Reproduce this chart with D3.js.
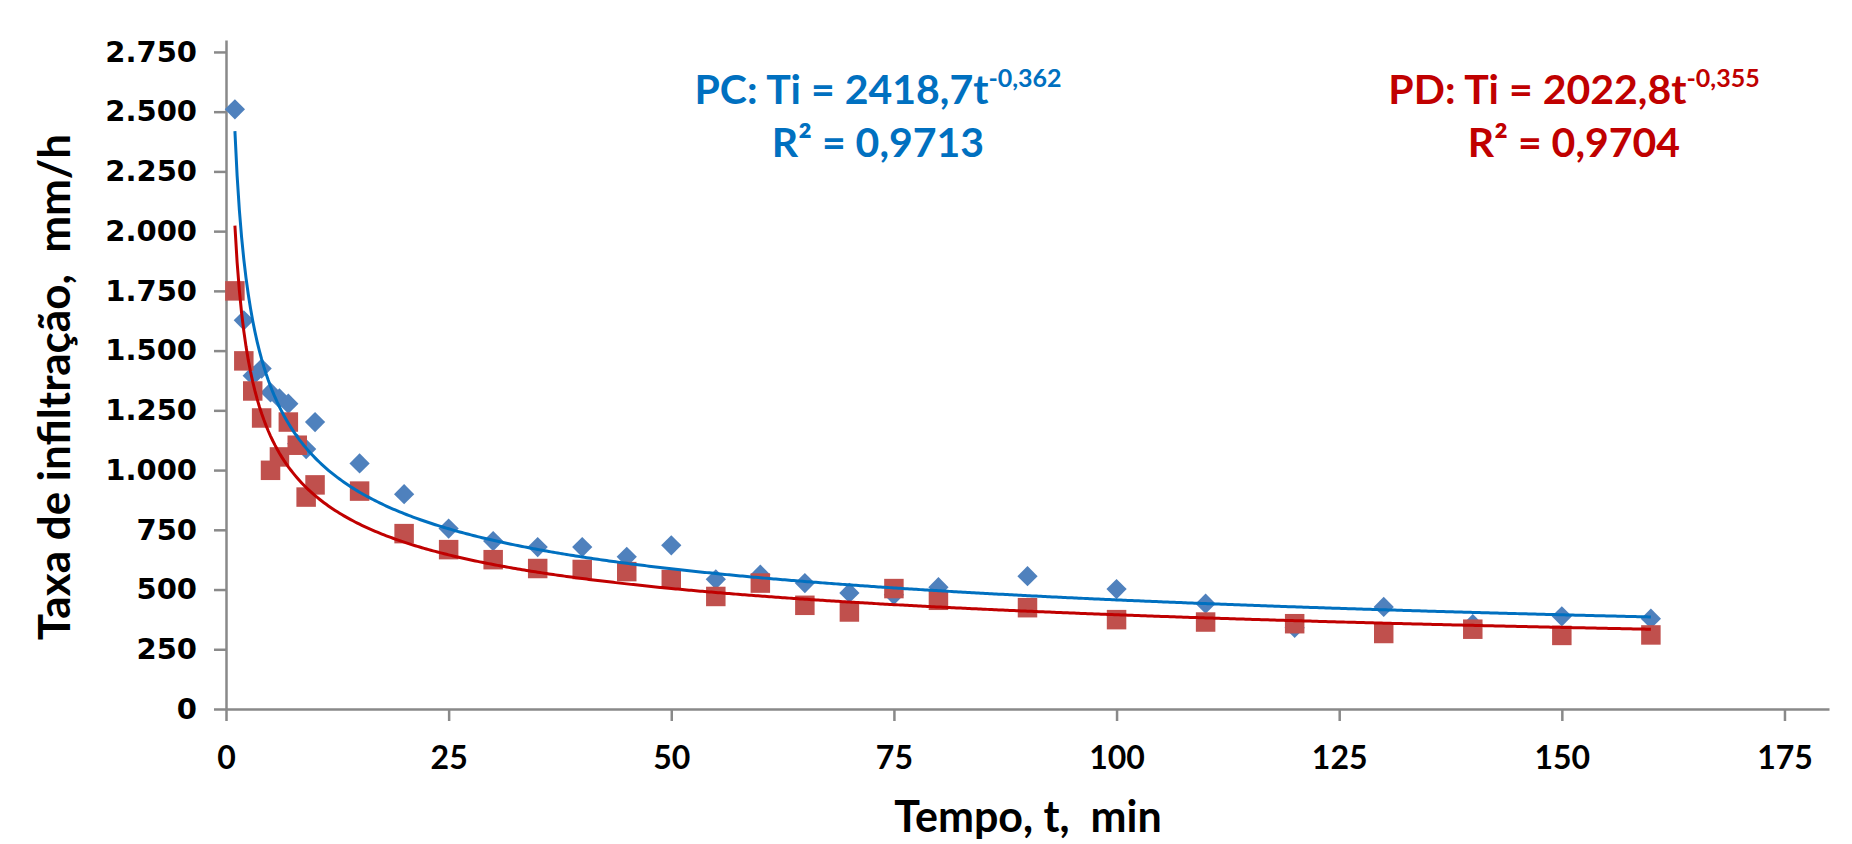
<!DOCTYPE html>
<html>
<head>
    <meta charset="utf-8">
    <title>Taxa de infiltração</title>
    <script src="https://cdnjs.cloudflare.com/ajax/libs/d3/7.8.5/d3.min.js"></script>
    <style>
        html, body {
            margin: 0;
            padding: 0;
            background: #ffffff;
        }
        svg text {
            font-family: Lato, "Open Sans", sans-serif;
            font-weight: bold;
            white-space: pre;
        }
        .yaxis text {
            font-family: "DejaVu Sans", sans-serif;
        }
    </style>
</head>
<body>
    <svg id="chart" width="1852" height="844"></svg>

    <script>
        // tempo (min) e taxa de infiltração (mm/h)
        var tempo = [1, 2, 3, 4, 5, 6, 7, 8, 9, 10, 15, 20, 25, 30, 35, 40, 45, 50,
                     55, 60, 65, 70, 75, 80, 90, 100, 110, 120, 130, 140, 150, 160];
        var pc = [2510, 1627, 1395, 1425, 1325, 1300, 1278, 1110, 1088, 1201, 1028, 899,
                  755, 703, 678, 678, 637, 685, 543, 562, 527, 486, 478, 510, 556, 502,
                  441, 340, 427, 355, 388, 378];
        var pd = [1750, 1457, 1331, 1218, 999, 1055, 1201, 1104, 887, 938, 912, 734,
                  667, 625, 588, 584, 575, 542, 471, 527, 434, 406, 504, 455, 424, 374,
                  364, 357, 316, 334, 308, 310];

        // ajustes potenciais (Ti = a * t^b)
        var pcFit = { a: 2418.7, b: -0.362 };
        var pdFit = { a: 2022.8, b: -0.355 };

        var xTicks = [0, 25, 50, 75, 100, 125, 150, 175];
        var yTicks = [0, 250, 500, 750, 1000, 1250, 1500, 1750, 2000, 2250, 2500, 2750];

        var margin = { top: 40, right: 23, bottom: 135, left: 226 };
        var width = 1852 - margin.left - margin.right;
        var height = 844 - margin.top - margin.bottom;

        var svg = d3.select("#chart");
        var g = svg.append("g")
            .attr("transform", `translate(${margin.left},${margin.top})`);

        var x = d3.scaleLinear().domain([0, 180]).range([0, width]);
        var y = d3.scaleLinear().domain([0, 2800]).range([height, 0]);

        var fmt = function (d) { return d3.format(",")(d).replace(/,/g, "."); };

        // eixo y
        var yAxis = g.append("g")
            .attr("class", "yaxis")
            .call(d3.axisLeft(y).tickValues(yTicks).tickSize(12).tickSizeOuter(0)
                .tickPadding(17).tickFormat(fmt));
        yAxis.select(".domain").attr("stroke", "#898989").attr("stroke-width", 2.5);
        yAxis.selectAll(".tick line").attr("stroke", "#898989").attr("stroke-width", 2.5);
        yAxis.selectAll("text")
            .attr("font-size", 29)
            .attr("fill", "#000");

        // eixo x
        var xAxis = g.append("g")
            .attr("transform", `translate(0,${height})`)
            .call(d3.axisBottom(x).tickValues(xTicks).tickSize(12).tickSizeOuter(0));
        xAxis.select(".domain").attr("stroke", "#898989").attr("stroke-width", 2.5);
        xAxis.selectAll(".tick line").attr("stroke", "#898989").attr("stroke-width", 2.5);
        xAxis.selectAll("text")
            .attr("y", 60)
            .attr("dy", 0)
            .attr("font-size", 32)
            .attr("fill", "#000");

        // marcadores PC (losangos)
        g.append("g")
            .selectAll("path")
            .data(tempo.map((t, i) => [t, pc[i]]))
            .join("path")
            .attr("d", d3.symbol(d3.symbolSquare, 205))
            .attr("transform", d => `translate(${x(d[0])},${y(d[1])}) rotate(45)`)
            .attr("fill", "#4F81BD");

        // marcadores PD (quadrados)
        g.append("g")
            .selectAll("path")
            .data(tempo.map((t, i) => [t, pd[i]]))
            .join("path")
            .attr("d", d3.symbol(d3.symbolSquare, 380))
            .attr("transform", d => `translate(${x(d[0])},${y(d[1])})`)
            .attr("fill", "#C0504D");

        // linhas de tendência
        var tLine = d3.range(1, 160.01, 0.25);
        var line = d3.line().x(d => x(d[0])).y(d => y(d[1]));

        [[pcFit, "#0070C0"], [pdFit, "#C00000"]].forEach(function (s) {
            g.append("path")
                .datum(tLine.map(t => [t, s[0].a * Math.pow(t, s[0].b)]))
                .attr("d", line)
                .attr("fill", "none")
                .attr("stroke", s[1])
                .attr("stroke-width", 3);
        });

        // títulos dos eixos
        svg.append("text")
            .attr("transform", "translate(70,387) rotate(-90)")
            .attr("text-anchor", "middle")
            .attr("font-size", 44)
            .text("Taxa de infiltração,  mm/h");

        svg.append("text")
            .attr("x", 1028)
            .attr("y", 832)
            .attr("text-anchor", "middle")
            .attr("font-size", 43)
            .text("Tempo, t,  min");

        // equações
        function equation(cx, color, label, a, b, r2) {
            var t1 = svg.append("text")
                .attr("x", cx)
                .attr("y", 104)
                .attr("text-anchor", "middle")
                .attr("font-size", 41)
                .attr("fill", color);
            t1.append("tspan").text(label + ": Ti = " + a + "t");
            t1.append("tspan")
                .attr("font-size", 25)
                .attr("dy", -17)
                .text(b);

            var t2 = svg.append("text")
                .attr("x", cx)
                .attr("y", 157)
                .attr("text-anchor", "middle")
                .attr("font-size", 41)
                .attr("fill", color);
            t2.append("tspan").text("R² = " + r2);
        }

        equation(878, "#0070C0", "PC", "2418,7", "-0,362", "0,9713");
        equation(1574, "#C00000", "PD", "2022,8", "-0,355", "0,9704");
    </script>
</body>
</html>
